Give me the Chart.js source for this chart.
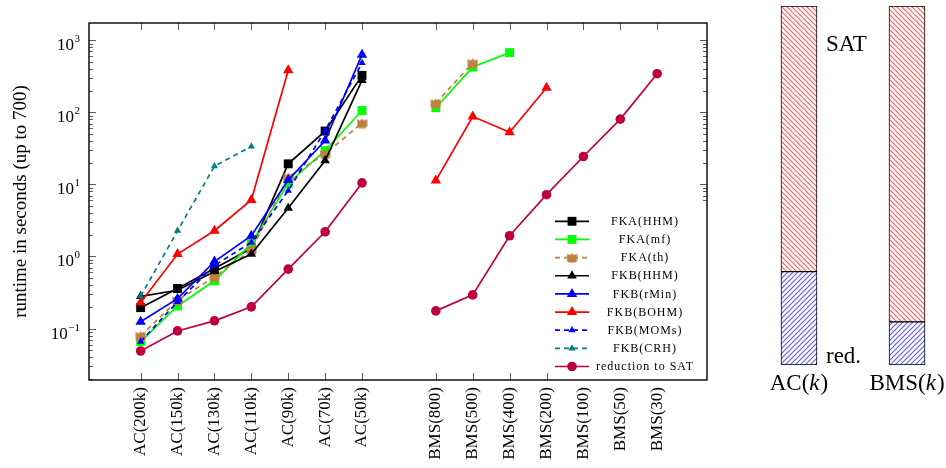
<!DOCTYPE html>
<html><head><meta charset="utf-8">
<script src="https://cdn.jsdelivr.net/npm/chart.js@4/dist/chart.umd.min.js"></script>
<style>
html,body{margin:0;padding:0;background:#fff;width:946px;height:468px;overflow:hidden}
#a{position:absolute;left:0;top:0;width:740px;height:468px}
#b{position:absolute;left:740px;top:0;width:206px;height:468px}
</style></head><body>
<canvas id="a" width="740" height="468"></canvas>
<canvas id="b" width="206" height="468"></canvas>
<script>
// ---------- data ----------
const categories = ['AC(200k)','AC(150k)','AC(130k)','AC(110k)','AC(90k)','AC(70k)','AC(50k)','',
  'BMS(800)','BMS(500)','BMS(400)','BMS(200)','BMS(100)','BMS(50)','BMS(30)'];
const fkaHHM   = [0.195,0.36,0.68,1.3,19.3,55,326, null, null,null,null,null,null,null,null];
const fkaMf    = [0.066,0.206,0.46,1.52,10.4,29.5,106, null, 116,425,675,null,null,null,null];
const fkaTh    = [0.079,0.247,0.52,1.23,12.6,26.5,71, null, 134,484,null,null,null,null,null];
const fkbHHM   = [0.28,0.34,0.62,1.08,4.7,21.4,278, null, null,null,null,null,null,null,null];
const fkbRMin  = [0.124,0.26,0.85,1.94,11.5,40.6,632, null, null,null,null,null,null,null,null];
const fkbBOHM  = [0.23,1.08,2.28,6.1,383,null,null, null, 11.3,87.7,53,220,null,null,null];
const fkbMOMs  = [0.066,0.235,0.75,1.57,8.2,56,484, null, null,null,null,null,null,null,null];
const fkbCRH   = [0.28,2.28,17.9,33.6,null,null,null, null, null,null,null,null,null,null,null];
const reductionSAT = [0.0488,0.0927,0.128,0.2,0.667,2.2,10.5, null, 0.176,0.293,1.94,7.2,24.4,80.5,344];
const seriesLabels = ['FKA(HHM)','FKA(mf)','FKA(th)','FKB(HHM)','FKB(rMin)','FKB(BOHM)','FKB(MOMs)','FKB(CRH)','reduction to SAT'];
const yTickValues = [0.1,1,10,100,1000];
const yTickExponents = ['\u22121','0','1','2','3'];

const barCategories = ['AC','BMS'];
const reductionShare = [0.26,0.12];
const satShare = [0.74,0.88];

// ---------- styles ----------
const SERIF = "'Liberation Serif', 'DejaVu Serif', serif";
Chart.defaults.font.family = SERIF;
Chart.defaults.color = '#000';

function thShape(){
  const c=document.createElement('canvas'); c.width=11; c.height=11;
  const g=c.getContext('2d'); g.fillStyle='#bf8040'; g.beginPath();
  g.moveTo(0.5,1.5); g.lineTo(3.5,3); g.lineTo(5.5,1); g.lineTo(7.5,3); g.lineTo(10.5,1.5);
  g.lineTo(10.5,8); g.quadraticCurveTo(10.5,10.5,8,10.5); g.lineTo(3,10.5);
  g.quadraticCurveTo(0.5,10.5,0.5,8); g.closePath(); g.fill(); return c;
}
const thImg = thShape();

const styles = [
  {color:'#000000', point:'rect', r:6.3, dash:[]},
  {color:'#00ff00', point:'rect', r:6.3, dash:[]},
  {color:'#bf8040', point:thImg, r:5.5, dash:[5,4]},
  {color:'#000000', point:'triangle', r:5.5, dash:[]},
  {color:'#0000ff', point:'triangle', r:6, dash:[]},
  {color:'#ff0000', point:'triangle', r:6, dash:[]},
  {color:'#0000ff', point:'triangle', r:4.2, dash:[5,4]},
  {color:'#008080', point:'triangle', r:4.2, dash:[5,4]},
  {color:'#bf0040', point:'circle', r:4.8, dash:[]}
];
const seriesValues = [fkaHHM,fkaMf,fkaTh,fkbHHM,fkbRMin,fkbBOHM,fkbMOMs,fkbCRH,reductionSAT];

const datasets = seriesValues.map((vals,i)=>({
  label: seriesLabels[i],
  data: vals.map((v,k)=>({x:k, y:v})),
  borderColor: styles[i].color,
  backgroundColor: styles[i].color,
  pointBackgroundColor: styles[i].color,
  pointBorderColor: styles[i].color,
  pointBorderWidth: 0,
  pointStyle: styles[i].point,
  pointRadius: styles[i].r,
  borderWidth: 1.7,
  borderDash: styles[i].dash,
  spanGaps: false,
  tension: 0,
  order: 9 - i
}));

const tickIdx = categories.map((c,i)=>i).filter(i=>categories[i] !== '');

const framePlugin = {
  id:'frame',
  afterDatasetsDraw(chart){
    const {ctx, chartArea:a, scales:{x,y}} = chart;
    ctx.save();
    ctx.strokeStyle='#333'; ctx.lineWidth=0.8;
    ctx.beginPath();
    tickIdx.forEach(i=>{
      const px = Math.round(x.getPixelForValue(i))+0.5;
      ctx.moveTo(px,a.bottom); ctx.lineTo(px,a.bottom-7);
      ctx.moveTo(px,a.top); ctx.lineTo(px,a.top+7);
    });
    for(let e=-2;e<=3;e++){
      for(let m=1;m<=9;m++){
        const v = m*Math.pow(10,e);
        if (v < y.min || v > y.max) continue;
        const py = Math.round(y.getPixelForValue(v))+0.5;
        const L = (m===1)?7:4;
        ctx.moveTo(a.left,py); ctx.lineTo(a.left+L,py);
        ctx.moveTo(a.right,py); ctx.lineTo(a.right-L,py);
      }
    }
    ctx.stroke();
    ctx.restore();
  },
  afterDraw(chart){
    const {ctx, chartArea:a, scales:{y}} = chart;
    ctx.save();
    // legend box
    const lx=548, ly=205;
    ctx.fillStyle='#fff';
    ctx.fillRect(lx, ly, a.right-lx, a.bottom-ly);
    chart.data.datasets.forEach((ds,i)=>{
      const cy = 221.3 + i*18.15;
      ctx.save();
      ctx.strokeStyle = ds.borderColor; ctx.lineWidth=1.7;
      ctx.setLineDash(ds.borderDash||[]);
      ctx.beginPath(); ctx.moveTo(555,cy); ctx.lineTo(589,cy); ctx.stroke();
      ctx.setLineDash([]);
      ctx.fillStyle = ds.backgroundColor;
      Chart.helpers.drawPoint(ctx, {pointStyle: ds.pointStyle, radius: ds.pointRadius, rotation:0, borderWidth:0}, 572, cy);
      ctx.fillStyle='#000';
      ctx.font = "12px " + SERIF;
      try { ctx.letterSpacing = '1px'; } catch(e){}
      ctx.textAlign='center'; ctx.textBaseline='middle';
      ctx.fillText(ds.label, 645, cy+0.5);
      ctx.restore();
    });
    // frame
    ctx.strokeStyle='#000'; ctx.lineWidth=1.4;
    ctx.strokeRect(a.left, a.top, a.right-a.left, a.bottom-a.top);
    // y tick labels with superscripts
    ctx.fillStyle='#000';
    ctx.textBaseline='alphabetic';
    yTickValues.forEach((v,k)=>{
      const py = y.getPixelForValue(v);
      ctx.font = "11px " + SERIF;
      ctx.textAlign='right';
      const ew = ctx.measureText(yTickExponents[k]).width;
      ctx.fillText(yTickExponents[k], 80, py+2);
      ctx.font = "17px " + SERIF;
      ctx.fillText('10', 80-ew-0.5, py+10);
    });
    ctx.restore();
  }
};

new Chart(document.getElementById('a'), {
  type:'line',
  data:{datasets},
  options:{
    responsive:false, animation:false,
    layout:{padding:{top:23,right:33,left:0,bottom:0}},
    plugins:{legend:{display:false}, tooltip:{enabled:false}},
    scales:{
      x:{type:'linear', min:-1.4, max:15.35,
        grid:{display:false, drawTicks:false}, border:{display:false},
        afterBuildTicks:(s)=>{ s.ticks = tickIdx.map(i=>({value:i})); },
        afterFit:(s)=>{ s.height = 88; },
        ticks:{autoSkip:false, maxRotation:90, minRotation:90, padding:7,
          font:{size:17, family:SERIF}, color:'#000',
          callback:(v)=>categories[v]}
      },
      y:{type:'logarithmic', min:Math.pow(10,-1.714), max:Math.pow(10,3.24),
        grid:{display:false, drawTicks:false}, border:{display:false},
        afterFit:(s)=>{ s.width = 89; },
        ticks:{display:false},
        title:{display:true, text:'runtime in seconds (up to 700)', font:{size:19, family:SERIF}, color:'#000', padding:{top:10,bottom:0}}
      }
    }
  },
  plugins:[framePlugin]
});

// ---------- right chart ----------
function hatch(color, dir){
  const s=5, c=document.createElement('canvas'); c.width=s; c.height=s;
  const g=c.getContext('2d'); g.fillStyle='#fff'; g.fillRect(0,0,s,s);
  g.strokeStyle=color; g.lineWidth=1.1; g.beginPath();
  if(dir>0){ g.moveTo(0,s); g.lineTo(s,0); g.moveTo(-1,1); g.lineTo(1,-1); g.moveTo(s-1,s+1); g.lineTo(s+1,s-1); }
  else { g.moveTo(0,0); g.lineTo(s,s); g.moveTo(-1,s-1); g.lineTo(1,s+1); g.moveTo(s-1,-1); g.lineTo(s+1,1); }
  g.stroke();
  return g.createPattern(c,'repeat');
}
const bctx = document.getElementById('b').getContext('2d');
const redPat = hatch('#ff5a5a', -1);
const bluePat = hatch('#5a5aff', 1);

const barLabelPlugin = {
  id:'barLabels',
  afterDraw(chart){
    const {ctx, scales:{x,y}} = chart;
    ctx.save();
    ctx.fillStyle='#000'; ctx.textBaseline='alphabetic';
    barCategories.forEach((c,i)=>{
      const cx = x.getPixelForValue(i);
      ctx.font = "23px " + SERIF;
      const w1 = ctx.measureText(c+'(').width;
      const w3 = ctx.measureText(')').width;
      ctx.font = "italic 23px " + SERIF;
      const w2 = ctx.measureText('k').width;
      const tot = w1+w2+w3+1;
      let sx = cx - tot/2;
      ctx.textAlign='left';
      ctx.font = "23px " + SERIF; ctx.fillText(c+'(', sx, 390);
      ctx.font = "italic 23px " + SERIF; ctx.fillText('k', sx+w1, 390);
      ctx.font = "23px " + SERIF; ctx.fillText(')', sx+w1+w2+1, 390);
    });
    ctx.font = "23px " + SERIF; ctx.textAlign='left';
    const rx = x.getPixelForValue(0) + 27;
    ctx.fillText('SAT', rx, 51);
    ctx.fillText('red.', rx, 363);
    ctx.restore();
  }
};

new Chart(bctx, {
  type:'bar',
  data:{datasets:[
    {label:'red.', data:reductionShare.map((v,i)=>({x:i,y:v})), backgroundColor:bluePat, borderColor:'#000', borderWidth:1, borderSkipped:false, barThickness:36},
    {label:'SAT', data:satShare.map((v,i)=>({x:i,y:v})), backgroundColor:redPat, borderColor:'#000', borderWidth:1, borderSkipped:false, barThickness:36}
  ]},
  options:{
    responsive:false, animation:false,
    layout:{padding:{top:6,bottom:103,left:0,right:0}},
    plugins:{legend:{display:false}, tooltip:{enabled:false}},
    scales:{
      x:{type:'linear', min:-0.546, max:1.361, stacked:true, offset:false, display:false},
      y:{stacked:true, min:0, max:1, display:false}
    }
  },
  plugins:[barLabelPlugin]
});
</script>
</body></html>
